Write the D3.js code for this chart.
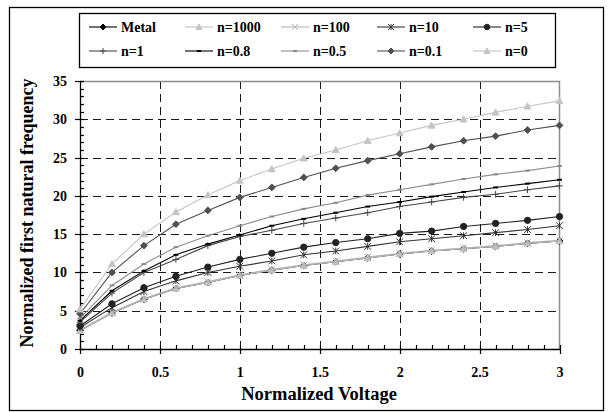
<!DOCTYPE html>
<html>
<head>
<meta charset="utf-8">
<script src="https://cdn.jsdelivr.net/npm/d3@7"></script>
<style>
  body { margin: 0; background: #fff; }
  svg { display: block; }
</style>
</head>
<body>
<svg width="612" height="412"></svg>
<script>
// x values (normalized voltage)
let voltage = [0, 0.2, 0.4, 0.6, 0.8, 1.0, 1.2, 1.4, 1.6, 1.8, 2.0, 2.2, 2.4, 2.6, 2.8, 3.0]

// series values
let metal   = [2.4, 4.7, 6.5, 7.9, 8.7, 9.6, 10.3, 10.9, 11.4, 11.9, 12.4, 12.8, 13.1, 13.4, 13.8, 14.1]
let n1000   = [2.4, 4.7, 6.5, 7.9, 8.7, 9.6, 10.3, 10.9, 11.4, 11.9, 12.4, 12.8, 13.1, 13.4, 13.8, 14.1]
let n100    = [2.5, 4.8, 6.6, 8.0, 8.8, 9.7, 10.4, 11.0, 11.5, 12.0, 12.5, 12.9, 13.2, 13.5, 13.9, 14.2]
let n10     = [2.8, 5.4, 7.5, 8.9, 10.0, 10.8, 11.5, 12.3, 12.8, 13.4, 14.0, 14.4, 14.8, 15.2, 15.6, 16.1]
let n5      = [3.0, 5.9, 8.0, 9.5, 10.7, 11.7, 12.5, 13.3, 13.9, 14.4, 15.1, 15.4, 16.0, 16.4, 16.8, 17.3]
let n1      = [3.5, 7.3, 10.0, 11.7, 13.5, 14.7, 15.5, 16.4, 17.1, 17.8, 18.6, 19.2, 19.8, 20.2, 20.8, 21.3]
let n08     = [3.7, 7.6, 10.2, 12.3, 13.7, 14.9, 16.1, 17.0, 17.8, 18.6, 19.2, 19.9, 20.5, 21.1, 21.6, 22.1]
let n05     = [4.0, 8.3, 11.1, 13.3, 14.8, 16.1, 17.3, 18.3, 19.1, 20.1, 20.8, 21.5, 22.2, 22.8, 23.3, 23.9]
let n01     = [4.6, 10.0, 13.5, 16.3, 18.1, 19.8, 21.1, 22.4, 23.6, 24.6, 25.5, 26.4, 27.2, 27.8, 28.6, 29.2]
let n0      = [5.2, 11.1, 15.0, 17.9, 20.1, 22.0, 23.5, 24.9, 26.0, 27.2, 28.2, 29.2, 30.0, 30.9, 31.7, 32.4]

let seriesNames = ['Metal', 'n=1000', 'n=100', 'n=10', 'n=5', 'n=1', 'n=0.8', 'n=0.5', 'n=0.1', 'n=0']
let seriesValues = [metal, n1000, n100, n10, n5, n1, n08, n05, n01, n0]

let xTicks = [0, 0.5, 1, 1.5, 2, 2.5, 3]
let yTicks = [0, 5, 10, 15, 20, 25, 30, 35]

// look of each series (same order as the names)
let styles = [
    { color: '#000000', marker: 'diamond' },
    { color: '#c4c4c4', marker: 'triangle' },
    { color: '#b4b4b4', marker: 'cross' },
    { color: '#333333', marker: 'star' },
    { color: '#222222', marker: 'circle' },
    { color: '#474747', marker: 'plus' },
    { color: '#000000', marker: 'dash' },
    { color: '#8c8c8c', marker: 'dash' },
    { color: '#505050', marker: 'diamond' },
    { color: '#c4c4c4', marker: 'triangle' }
]

let fontFamily = '"Liberation Serif", "Times New Roman", Times, "DejaVu Serif", serif'

let svg = d3.select('svg')

// plot area
let plotLeft = 80
let plotRight = 559.5
let plotTop = 81
let plotBottom = 349

let xScale = d3.scaleLinear().domain([0, 3]).range([plotLeft, plotRight])
let yScale = d3.scaleLinear().domain([0, 35]).range([plotBottom, plotTop])

// outer frame of the chart
svg.append('rect')
   .attr('x', 9.5).attr('y', 7.5)
   .attr('width', 594).attr('height', 403)
   .attr('fill', '#fff')
   .attr('stroke', '#000')
   .attr('stroke-width', 1.3)

// dashed grid
svg.append('g')
   .selectAll('line')
   .data(yTicks.filter(d => d > 0 && d < 35))
   .enter()
   .append('line')
   .attr('x1', plotLeft).attr('x2', plotRight)
   .attr('y1', d => Math.round(yScale(d)) + 0.5)
   .attr('y2', d => Math.round(yScale(d)) + 0.5)
   .attr('stroke', '#1a1a1a')
   .attr('stroke-dasharray', '8,5')

svg.append('g')
   .selectAll('line')
   .data(xTicks.filter(d => d > 0 && d < 3))
   .enter()
   .append('line')
   .attr('y1', plotTop).attr('y2', plotBottom)
   .attr('x1', d => Math.round(xScale(d)) + 0.5)
   .attr('x2', d => Math.round(xScale(d)) + 0.5)
   .attr('stroke', '#1a1a1a')
   .attr('stroke-dasharray', '8,5')

// plot area border top and right
svg.append('path')
   .attr('d', 'M' + plotLeft + ',' + (plotTop + 0.5) + 'H' + plotRight + 'V' + plotBottom)
   .attr('fill', 'none')
   .attr('stroke', '#8c8c8c')
   .attr('stroke-width', 1.5)

// axes (labels only, lines drawn below)
let xAxis = d3.axisBottom(xScale).tickValues(xTicks).tickSize(0).tickPadding(18)
    .tickFormat(d3.format('~g'))
let yAxis = d3.axisLeft(yScale).tickValues(yTicks).tickSize(0).tickPadding(13)

let gx = svg.append('g')
   .attr('id', 'x-axis')
   .attr('transform', 'translate(0,' + plotBottom + ')')
   .call(xAxis)
let gy = svg.append('g')
   .attr('id', 'y-axis')
   .attr('transform', 'translate(' + plotLeft + ',0)')
   .call(yAxis)

gx.select('.domain').remove()
gy.select('.domain').remove()
svg.selectAll('.tick text')
   .style('font-family', fontFamily)
   .style('font-weight', 'bold')
   .style('font-size', '14px')
   .attr('fill', '#000')

svg.append('line')
   .attr('x1', plotLeft).attr('x2', plotRight + 1)
   .attr('y1', plotBottom + 0.5).attr('y2', plotBottom + 0.5)
   .attr('stroke', '#000').attr('stroke-width', 1.3)
svg.append('line')
   .attr('x1', plotLeft + 0.5).attr('x2', plotLeft + 0.5)
   .attr('y1', plotTop).attr('y2', plotBottom)
   .attr('stroke', '#000').attr('stroke-width', 1.3)

// major ticks cross the axes, minor ticks point inside
let xMinor = d3.range(0, 31).map(i => i / 10)
let yMinor = d3.range(0, 36)

svg.append('g').selectAll('line')
   .data(xMinor)
   .enter()
   .append('line')
   .attr('x1', d => Math.round(xScale(d)) + 0.5)
   .attr('x2', d => Math.round(xScale(d)) + 0.5)
   .attr('y1', d => xTicks.includes(d) ? plotBottom + 5 : plotBottom)
   .attr('y2', plotBottom - 4)
   .attr('stroke', '#000')
   .attr('stroke-width', 1.2)

svg.append('g').selectAll('line')
   .data(yMinor)
   .enter()
   .append('line')
   .attr('y1', d => Math.round(yScale(d)) + 0.5)
   .attr('y2', d => Math.round(yScale(d)) + 0.5)
   .attr('x1', d => yTicks.includes(d) ? plotLeft - 5 : plotLeft)
   .attr('x2', plotLeft + 4)
   .attr('stroke', '#000')
   .attr('stroke-width', 1.2)

// axis titles
svg.append('text')
   .attr('x', 319)
   .attr('y', 400)
   .attr('text-anchor', 'middle')
   .style('font-family', fontFamily)
   .style('font-weight', 'bold')
   .style('font-size', '18.5px')
   .text('Normalized Voltage')

svg.append('text')
   .attr('transform', 'translate(33,213) rotate(-90)')
   .attr('text-anchor', 'middle')
   .style('font-family', fontFamily)
   .style('font-weight', 'bold')
   .style('font-size', '18px')
   .text('Normalized first natural frequency')

// marker shapes
let markerPath = (type, s) => {
    if (type === 'diamond') return 'M0,' + (-s) + 'L' + s + ',0L0,' + s + 'L' + (-s) + ',0Z'
    if (type === 'triangle') return 'M0,' + (-s) + 'L' + s + ',' + (s * 0.8) + 'L' + (-s) + ',' + (s * 0.8) + 'Z'
    if (type === 'circle') return d3.symbol(d3.symbolCircle, Math.PI * s * s * 0.85)()
    if (type === 'cross') return 'M' + (-s) + ',' + (-s) + 'L' + s + ',' + s + 'M' + (-s) + ',' + s + 'L' + s + ',' + (-s)
    if (type === 'star') return 'M' + (-s) + ',' + (-s) + 'L' + s + ',' + s + 'M' + (-s) + ',' + s + 'L' + s + ',' + (-s) + 'M0,' + (-s) + 'V' + s
    if (type === 'plus') return 'M' + (-s) + ',0H' + s + 'M0,' + (-s) + 'V' + s
    return 'M' + (-s * 0.7) + ',0H' + (s * 0.7)
}
let filled = t => t === 'diamond' || t === 'triangle' || t === 'circle'

let line = d3.line()
    .x((d, i) => xScale(voltage[i]))
    .y(d => yScale(d))

let plot = svg.append('g')

seriesValues.forEach((vals, k) => {
    let st = styles[k]
    plot.append('path')
        .attr('d', line(vals))
        .attr('fill', 'none')
        .attr('stroke', st.color)
        .attr('stroke-width', 1.1)

    plot.append('g')
        .selectAll('path')
        .data(vals)
        .enter()
        .append('path')
        .attr('transform', (d, i) => 'translate(' + xScale(voltage[i]) + ',' + yScale(d) + ')')
        .attr('d', markerPath(st.marker, 3.4))
        .attr('fill', filled(st.marker) ? st.color : 'none')
        .attr('stroke', st.color)
        .attr('stroke-width', st.marker === 'dash' ? 2 : 1)
})

// legend
let legend = svg.append('g')
legend.append('rect')
      .attr('x', 79.5).attr('y', 13.5)
      .attr('width', 476).attr('height', 54)
      .attr('fill', '#fff')
      .attr('stroke', '#000')
      .attr('stroke-width', 1.3)

seriesNames.forEach((name, k) => {
    let st = styles[k]
    let col = k % 5
    let row = Math.floor(k / 5)
    let lx = 89 + col * 96
    let ly = 27 + row * 24

    let item = legend.append('g').attr('transform', 'translate(' + lx + ',' + ly + ')')
    item.append('line')
        .attr('x1', 0).attr('x2', 28)
        .attr('y1', 0).attr('y2', 0)
        .attr('stroke', st.color)
        .attr('stroke-width', 1.1)
    item.append('path')
        .attr('transform', 'translate(14,0)')
        .attr('d', markerPath(st.marker, 3))
        .attr('fill', filled(st.marker) ? st.color : 'none')
        .attr('stroke', st.color)
        .attr('stroke-width', st.marker === 'dash' ? 2 : 1)
    item.append('text')
        .attr('x', 32)
        .attr('y', 5)
        .style('font-family', fontFamily)
        .style('font-weight', 'bold')
        .style('font-size', '14px')
        .text(name)
})
</script>
</body>
</html>
